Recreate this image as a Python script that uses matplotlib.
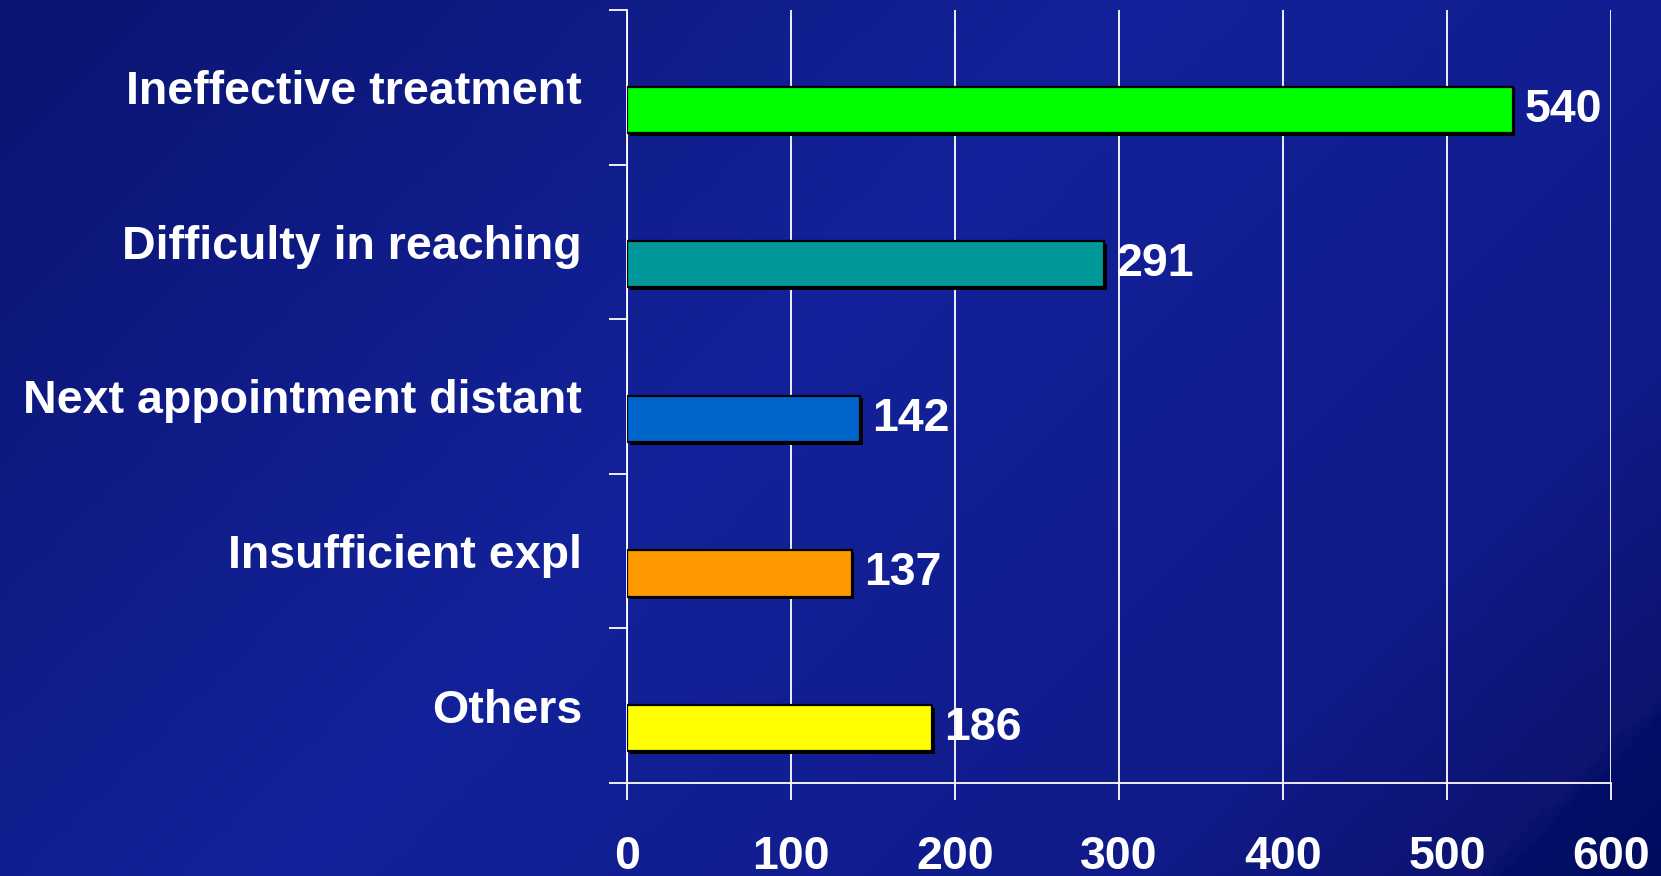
import numpy as np
import matplotlib
matplotlib.use("Agg")
import matplotlib.pyplot as plt
import matplotlib.patheffects as pe
from matplotlib.colors import LinearSegmentedColormap

categories = ["Ineffective treatment", "Difficulty in reaching", "Next appointment distant",
              "Insufficient expl", "Others"]
values = [540, 291, 142, 137, 186]
bar_colors = ["#00ff00", "#009999", "#0066cc", "#ff9900", "#ffff00"]
x_ticks = [0, 100, 200, 300, 400, 500, 600]

plt.rcParams["font.family"] = ["Liberation Sans", "DejaVu Sans"]
plt.rcParams["font.weight"] = "bold"

fig = plt.figure(figsize=(16.61, 8.76), dpi=100)

# diagonal blue gradient background
bg = fig.add_axes([0, 0, 1, 1], zorder=-10)
bg.axis("off")
xx, yy = np.meshgrid(np.linspace(0, 1, 400), np.linspace(0, 1, 200))
t = (xx * 1.9 + yy) / 2.9
cmap = LinearSegmentedColormap.from_list(
    "bg", [(0, "#0b1470"), (0.45, "#13229a"), (0.8, "#101a88"), (0.93, "#0d136f"), (0.94, "#030f66"), (1, "#020d60")])
bg.imshow(t, cmap=cmap, aspect="auto", extent=[0, 1, 0, 1], origin="upper")
bg.set_xlim(0, 1)
bg.set_ylim(0, 1)

ax = fig.add_axes([0.3775, 0.1062, 0.9699 - 0.3775, 0.9886 - 0.1062])
ax.patch.set_alpha(0)

y = np.arange(len(categories))
bar_shift = 0.145  # bars sit a bit below the middle of each band
bars = ax.barh(y + bar_shift, values, height=0.3, color=bar_colors, edgecolor="black",
               linewidth=1.6, zorder=3)
for b in bars:
    b.set_path_effects([pe.SimplePatchShadow(offset=(2, -2), shadow_rgbFace="black", alpha=1), pe.Normal()])

ax.set_xlim(0, 600)
ax.set_ylim(len(categories) - 0.5, -0.5)

ax.set_xticks(x_ticks)
ax.set_xticklabels([str(v) for v in x_ticks])
ax.set_yticks(np.arange(-0.5, len(categories), 1.0))
ax.set_yticklabels([])
ax.tick_params(axis="x", colors="white", direction="out", length=12.5, width=1.3, pad=25, labelsize=33.5)
ax.tick_params(axis="y", colors="white", direction="out", length=13, width=1.3)
for lab in ax.get_xticklabels():
    lab.set_fontweight("bold")

ax.grid(axis="x", color="white", linewidth=1.3, zorder=1)
for s in ["top", "right"]:
    ax.spines[s].set_visible(False)
for s in ["left", "bottom"]:
    ax.spines[s].set_color("white")
    ax.spines[s].set_linewidth(1.3)

for i, (cat, v) in enumerate(zip(categories, values)):
    ax.annotate(cat, xy=(0, i), xycoords=("axes fraction", "data"), xytext=(-45, -5),
                textcoords="offset pixels", ha="right", va="center", color="white",
                fontsize=33.5, fontweight="bold")
    ax.annotate(str(v), xy=(v, i + bar_shift), xytext=(12, 0), textcoords="offset pixels",
                ha="left", va="center", color="white", fontsize=33.5, fontweight="bold", zorder=4)

fig.savefig("out.png", dpi=100)
